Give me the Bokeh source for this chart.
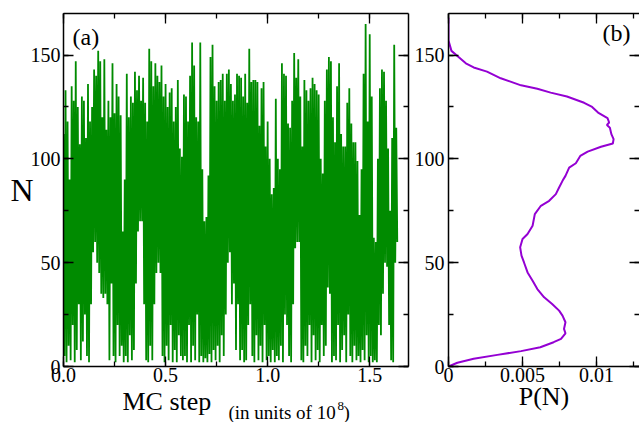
from bokeh.plotting import figure
from bokeh.models import Range1d, LinearAxis, SingleIntervalTicker, Label, CustomJSTickFormatter
from bokeh.layouts import row, column
from bokeh.embed import file_html
from bokeh.resources import INLINE

# ---- data ----
# panel (a): N along the run, as upper / lower excursion in each 0.01 (x 1e8) MC-step bin
mc_bin = 0.01
n_high = [112,133,118,90,135,128,147,125,107,130,
          128,110,136,118,125,143,140,152,147,120,
          148,114,128,120,146,122,136,130,121,65,
          90,141,120,130,127,142,133,140,128,139,
          127,118,153,147,135,146,140,137,145,130,
          136,125,132,134,118,125,138,105,101,131,
          130,118,140,156,145,120,118,156,95,70,
          72,92,149,155,135,128,137,138,141,128,
          141,143,136,128,131,141,140,139,130,141,
          127,153,137,138,138,137,116,134,137,106,
          118,100,83,86,129,100,95,146,141,140,
          117,115,128,151,139,148,130,106,138,133,
          128,134,139,136,133,131,100,93,128,143,
          149,147,120,108,135,146,112,106,106,127,
          134,117,108,108,99,73,95,141,165,118,
          160,130,62,60,100,134,143,142,128,105,
          75,110,155,115]
n_low = [5,2,10,3,20,2,8,30,3,12,
         25,5,2,30,55,60,50,45,35,33,
         35,30,3,40,5,2,20,5,10,2,
         5,2,15,3,8,40,65,70,70,30,
         3,2,10,3,30,45,50,45,5,2,
         10,3,20,2,8,2,15,5,3,5,
         2,20,2,10,3,25,2,5,2,4,
         2,6,2,8,3,10,2,15,5,25,
         50,55,30,40,8,30,3,8,2,3,
         20,30,5,2,15,3,10,2,20,3,
         5,2,8,2,5,3,10,2,25,20,
         5,2,30,57,60,60,3,2,10,5,
         20,2,15,3,8,2,20,5,10,38,
         35,2,5,3,20,2,8,15,2,25,
         5,2,10,3,5,2,8,3,15,2,
         5,2,3,2,20,15,35,50,48,20,
         3,2,50,60]

# panel (b): distribution P(N)
pn_N = [0, 1.8, 3.7, 5.6, 7.4, 9.3, 11.7, 13.3, 16, 18.1, 21.3, 24.5, 26.9, 30.1,
        33.3, 37.3, 41.3, 45.3, 50.1, 53.4, 57.4, 61.4, 63.8, 67.8, 73.4, 77.4,
        79.8, 83, 86.2, 89.4, 91.8, 95.8, 97.9, 101.4, 103.5, 105.8, 107.4, 109.5,
        111.9, 115, 116.3, 117.5, 119.6, 122.3, 125, 127, 130, 131.9, 133.8, 135.4,
        138.8, 142, 144, 146, 149.5, 152, 157, 168]
pn_P = [0, 0.0006, 0.0017, 0.0033, 0.0049, 0.0062, 0.0071, 0.0076, 0.0079, 0.0078,
        0.0079, 0.0077, 0.00747, 0.0070, 0.00646, 0.0060, 0.00568, 0.00534, 0.0051,
        0.00493, 0.00484, 0.0050, 0.00534, 0.00568, 0.00583, 0.00624, 0.0068,
        0.00725, 0.00747, 0.0077, 0.0079, 0.00815, 0.0086, 0.0089, 0.0094, 0.0103,
        0.0111, 0.01115, 0.0110, 0.0109, 0.0107, 0.01085, 0.01074, 0.0101, 0.0097,
        0.00916, 0.0080, 0.0069, 0.0060, 0.0049, 0.00353, 0.0026, 0.0017, 0.00117,
        0.0006, 0.0002, 0, 0]

SERIF = "Liberation Serif"
GREEN = "#008b00"
PURPLE = "#9400d3"

mc_x, mc_y = [], []
for i, (h, l) in enumerate(zip(n_high, n_low)):
    mc_x += [i * mc_bin, i * mc_bin + mc_bin / 2]
    mc_y += [h, l]


def make_axis(interval, show_labels, formatter=None, line=True, standoff=3):
    ax = LinearAxis(ticker=SingleIntervalTicker(interval=interval, num_minor_ticks=2))
    ax.major_tick_in = 10
    ax.major_tick_out = 0
    ax.minor_tick_in = 5
    ax.minor_tick_out = 0
    ax.major_tick_line_color = "black"
    ax.minor_tick_line_color = "black"
    ax.major_tick_line_width = 1.3
    ax.minor_tick_line_width = 1.3
    ax.axis_line_color = "black" if line else None
    ax.axis_line_width = 1.5
    if formatter is not None:
        ax.formatter = formatter
    if show_labels:
        ax.major_label_text_font = SERIF
        ax.major_label_text_font_size = "20px"
        ax.major_label_text_color = "black"
        ax.major_label_standoff = standoff
    else:
        ax.major_label_text_font_size = "0px"
        ax.major_label_standoff = 0
    return ax


def label(text, x, y, size):
    return Label(x=x, y=y, x_units="screen", y_units="screen", text=text,
                 text_font=SERIF, text_font_size=size, text_color="black",
                 text_align="left", text_baseline="alphabetic")


# ---- panel (a) ----
p1 = figure(width=410, height=390, x_range=Range1d(0, 1.69), y_range=Range1d(0, 170),
            x_axis_type=None, y_axis_type=None, output_backend="svg",
            toolbar_location=None, min_border_left=63, min_border_right=2,
            min_border_top=13, min_border_bottom=24)
p1.outline_line_color = None
p1.background_fill_color = "white"
p1.border_fill_color = "white"
p1.line(mc_x, mc_y, line_color=GREEN, line_width=1.8)

fx1 = CustomJSTickFormatter(code="return tick.toFixed(1);")
p1.add_layout(make_axis(0.5, True, fx1, standoff=1), "below")
p1.add_layout(make_axis(0.5, False), "above")
ly1 = make_axis(50, True)
ly1.axis_label = "N"
ly1.axis_label_orientation = "horizontal"
ly1.axis_label_text_font = SERIF
ly1.axis_label_text_font_size = "32px"
ly1.axis_label_text_font_style = "normal"
ly1.axis_label_text_color = "black"
ly1.axis_label_standoff = -6
p1.add_layout(ly1, "left")
p1.add_layout(make_axis(50, False), "right")
p1.add_layout(label("(a)", 9, 330, "24px"))

# caption strip under panel (a); its frame is aligned with panel (a)'s frame
cap = figure(width=410, height=32, x_range=Range1d(0, 1), y_range=Range1d(0, 1),
             x_axis_type=None, y_axis_type=None, output_backend="svg",
             toolbar_location=None, min_border=0)
cap.outline_line_color = None
cap.border_fill_color = "white"
cap.add_layout(label("MC step", 59, 21, "26px"))
cap.add_layout(label("(in units of 10", 165, 10, "19px"))
cap.add_layout(label("8", 274, 17, "13px"))
cap.add_layout(label(")", 280, 10, "19px"))

# ---- panel (b) ----
p2 = figure(width=229, height=422, x_range=Range1d(0, 0.0129), y_range=Range1d(0, 170),
            x_axis_type=None, y_axis_type=None, output_backend="svg",
            toolbar_location=None, min_border_left=38, min_border_right=0,
            min_border_top=13, min_border_bottom=56)
p2.outline_line_color = None
p2.background_fill_color = "white"
p2.border_fill_color = "white"
p2.line(pn_P, pn_N, line_color=PURPLE, line_width=2)

fx2 = CustomJSTickFormatter(code="return String(parseFloat(tick.toFixed(4)));")
bx2 = make_axis(0.005, True, fx2, standoff=1)
bx2.axis_label = "P(N)"
bx2.axis_label_text_font = SERIF
bx2.axis_label_text_font_size = "26px"
bx2.axis_label_text_font_style = "normal"
bx2.axis_label_text_color = "black"
bx2.axis_label_standoff = -3
p2.add_layout(bx2, "below")
p2.add_layout(make_axis(0.005, False), "above")
p2.add_layout(make_axis(50, True, standoff=4), "left")
p2.add_layout(make_axis(50, False, line=False), "right")
p2.add_layout(label("(b)", 154, 334, "24px"))

layout = row(column(p1, cap, spacing=0), p2, spacing=0)
open("out.html", "w").write(file_html(layout, INLINE))
